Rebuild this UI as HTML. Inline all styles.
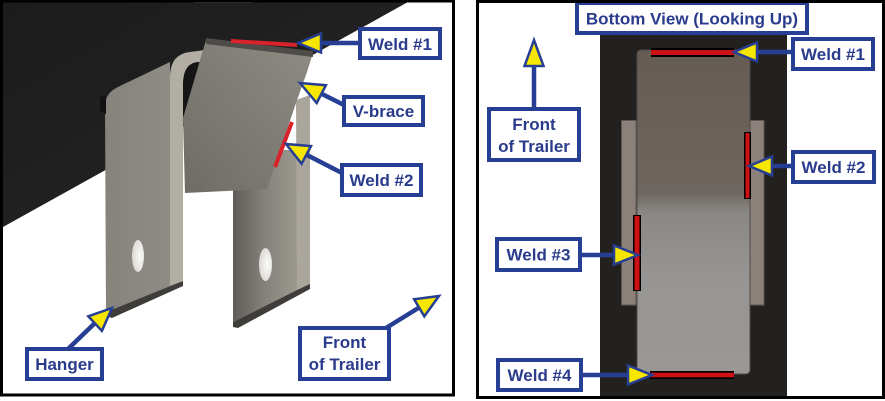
<!DOCTYPE html>
<html>
<head>
<meta charset="utf-8">
<style>
html,body{margin:0;padding:0;background:#fff;}
svg{display:block;}
text{font-family:"Liberation Sans",Arial,sans-serif;font-weight:900;font-size:17px;fill:#2a3b8c;text-anchor:middle;}
</style>
</head>
<body>
<svg width="885" height="401" viewBox="0 0 885 401" xmlns="http://www.w3.org/2000/svg">
<defs>
  <linearGradient id="frameG" x1="0" y1="0" x2="1" y2="1">
    <stop offset="0" stop-color="#1b1b1b"/>
    <stop offset="1" stop-color="#262626"/>
  </linearGradient>
  <linearGradient id="lpG" x1="0" y1="0" x2="1" y2="0">
    <stop offset="0" stop-color="#86837c"/>
    <stop offset="1" stop-color="#8f8c85"/>
  </linearGradient>
  <linearGradient id="rpG" x1="0" y1="0" x2="1" y2="0">
    <stop offset="0" stop-color="#605d58"/>
    <stop offset="0.5" stop-color="#85827b"/>
    <stop offset="1" stop-color="#9d998f"/>
  </linearGradient>
  <linearGradient id="vbG" x1="0" y1="1" x2="1" y2="0">
    <stop offset="0" stop-color="#6f6c66"/>
    <stop offset="1" stop-color="#8f8c84"/>
  </linearGradient>
  <linearGradient id="bodyG" x1="0" y1="50" x2="0" y2="374" gradientUnits="userSpaceOnUse">
    <stop offset="0" stop-color="#665c54"/>
    <stop offset="0.44" stop-color="#6d655e"/>
    <stop offset="0.5" stop-color="#8a8784"/>
    <stop offset="0.7" stop-color="#979593"/>
    <stop offset="1" stop-color="#9a9895"/>
  </linearGradient>
  <radialGradient id="holeG" cx="0.65" cy="0.5" r="0.6">
    <stop offset="0" stop-color="#fbfbfa"/>
    <stop offset="1" stop-color="#dcdad6"/>
  </radialGradient>
</defs>

<!-- ========== LEFT PANEL ========== -->
<polygon points="3,2 408,2 3,227" fill="url(#frameG)"/>
<rect x="194" y="0" width="59" height="3" fill="#555"/>

<!-- dark slot inside hanger loop -->
<path d="M183,82 Q184,63 198,62 L208,60 L192,125 L183,125 Z" fill="#151515"/>
<!-- left plate face -->
<path d="M105,104 Q106,92 120,86 L170,62 L170,286 L106,312 Z" fill="url(#lpG)"/>
<path d="M100,97 L106,96 L106,114 L100,111 Z" fill="#111"/>
<!-- left plate side strip -->
<path d="M170,286 L170,75 Q171,54 190,52 L205,50 L204,62 L198,62 Q184,63 183,82 L183,281 Z" fill="#b3aea3"/>
<!-- left plate bottom thickness -->
<path d="M106,312 L170,286 L183,281 L183,286 L112,318 L106,316 Z" fill="#3f3d3a"/>

<!-- right plate face -->
<path d="M233,150 L297,150 L297,290 L233,322 Z" fill="url(#rpG)"/>
<!-- right plate side strip -->
<path d="M296,100 L310,95 L310,286 L297,291 Z" fill="#aaa69c"/>
<!-- right plate bottom thickness -->
<path d="M233,322 L297,290 L310,284 L310,289 L238,328 L233,327 Z" fill="#3f3d3a"/>

<!-- holes -->
<ellipse cx="138" cy="256" rx="6" ry="16" fill="url(#holeG)"/>
<ellipse cx="265.5" cy="264.5" rx="6.5" ry="16.5" fill="url(#holeG)"/>

<!-- V-brace -->
<path d="M206,40 L313,53 L307,72 L296,103 L267,189 L185,193 L183,118 Z" fill="url(#vbG)"/>
<path d="M206,38 L313,51 L313,57 L206,44 Z" fill="#4e4c48"/>

<!-- welds left -->
<line x1="231" y1="41" x2="297" y2="45" stroke="#d8232a" stroke-width="4"/>
<line x1="292" y1="122" x2="275" y2="167" stroke="#d8232a" stroke-width="4"/>

<!-- arrows left -->
<g stroke="#263e93" stroke-linejoin="miter">
  <line x1="320" y1="43" x2="360" y2="43" stroke-width="4.5"/>
  <polygon points="298,43 321,33.5 321,52.5" fill="#f7e600" stroke-width="2.5"/>

  <line x1="320" y1="93" x2="344" y2="105" stroke-width="4.5"/>
  <polygon points="300,83 316.7,103 325.9,85.2" fill="#f7e600" stroke-width="2.5"/>

  <line x1="305" y1="154" x2="342" y2="173" stroke-width="4.5"/>
  <polygon points="286,144 301.6,163.7 311,146.1" fill="#f7e600" stroke-width="2.5"/>

  <line x1="96" y1="322" x2="68" y2="349" stroke-width="4.5"/>
  <polygon points="112,308 88.3,316.3 101.9,330.9" fill="#f7e600" stroke-width="2.5"/>

  <line x1="420" y1="307" x2="386" y2="328" stroke-width="4.5"/>
  <polygon points="439,296 414.1,299.2 424.3,316.4" fill="#f7e600" stroke-width="2.5"/>
</g>

<!-- boxes left -->
<g fill="#fff" stroke="#263e93" stroke-width="4">
  <rect x="360" y="29" width="80" height="29"/>
  <rect x="344" y="97" width="79" height="28"/>
  <rect x="342" y="165" width="79" height="30"/>
  <rect x="27" y="349" width="75" height="30"/>
  <rect x="300" y="328" width="89" height="51"/>
</g>
<text x="400" y="50">Weld #1</text>
<text x="383.5" y="117">V-brace</text>
<text x="381.5" y="186">Weld #2</text>
<text x="64.5" y="370">Hanger</text>
<text x="344.5" y="348">Front</text>
<text x="344.5" y="370">of Trailer</text>

<rect x="1.5" y="1" width="452" height="394" fill="none" stroke="#000" stroke-width="3"/>

<!-- ========== RIGHT PANEL ========== -->
<rect x="600" y="35" width="187" height="362" fill="#222120"/>

<!-- flanges -->
<rect x="621.5" y="120.5" width="14.5" height="184.5" fill="#8b817a" stroke="#5e5751" stroke-width="1"/>
<rect x="750" y="120.5" width="14" height="184.5" fill="#8b817a" stroke="#5e5751" stroke-width="1"/>
<!-- body -->
<rect x="637" y="50" width="113" height="324" rx="4" fill="url(#bodyG)" stroke="#4f4a46" stroke-width="1"/>

<!-- welds right -->
<rect x="651" y="48" width="83" height="9" fill="#000"/>
<rect x="651" y="50" width="83" height="5" fill="#cc1014"/>
<rect x="744" y="132" width="7" height="67" fill="#000"/>
<rect x="745.5" y="133" width="4" height="65" fill="#cc1014"/>
<rect x="633" y="215" width="8" height="76" fill="#000"/>
<rect x="634.5" y="216" width="5" height="74" fill="#cc1014"/>
<rect x="650" y="371" width="84" height="8" fill="#000"/>
<rect x="650" y="372.7" width="84" height="4.6" fill="#cc1014"/>

<!-- arrows right -->
<g stroke="#263e93" stroke-linejoin="miter">
  <line x1="756" y1="52" x2="793" y2="52" stroke-width="4.5"/>
  <polygon points="734,52 757,42.5 757,61.5" fill="#f7e600" stroke-width="2.5"/>

  <line x1="534" y1="65" x2="534" y2="109" stroke-width="4.5"/>
  <polygon points="534,40 524.5,66 543.5,66" fill="#f7e600" stroke-width="2.5"/>

  <line x1="771" y1="166" x2="793" y2="166" stroke-width="4.5"/>
  <polygon points="749,166 772,156.5 772,175.5" fill="#f7e600" stroke-width="2.5"/>

  <line x1="580" y1="255" x2="615" y2="255" stroke-width="4.5"/>
  <polygon points="638,255 614,245.5 614,264.5" fill="#f7e600" stroke-width="2.5"/>

  <line x1="581" y1="375" x2="629" y2="375" stroke-width="4.5"/>
  <polygon points="652,375 628,365.5 628,384.5" fill="#f7e600" stroke-width="2.5"/>
</g>

<!-- boxes right -->
<g fill="#fff" stroke="#263e93" stroke-width="4">
  <rect x="577" y="3" width="230" height="30"/>
  <rect x="793" y="39" width="80" height="30"/>
  <rect x="489" y="109" width="90" height="51"/>
  <rect x="793" y="152" width="81" height="30"/>
  <rect x="497" y="239" width="83" height="31"/>
  <rect x="498" y="360" width="83" height="30"/>
</g>
<text x="692" y="24.5">Bottom View (Looking Up)</text>
<text x="833" y="60">Weld #1</text>
<text x="534" y="130">Front</text>
<text x="534" y="152">of Trailer</text>
<text x="833.5" y="173">Weld #2</text>
<text x="538.5" y="260.5">Weld #3</text>
<text x="539.5" y="381">Weld #4</text>

<rect x="477.5" y="1.5" width="406" height="396" fill="none" stroke="#000" stroke-width="3"/>
</svg>
</body>
</html>
